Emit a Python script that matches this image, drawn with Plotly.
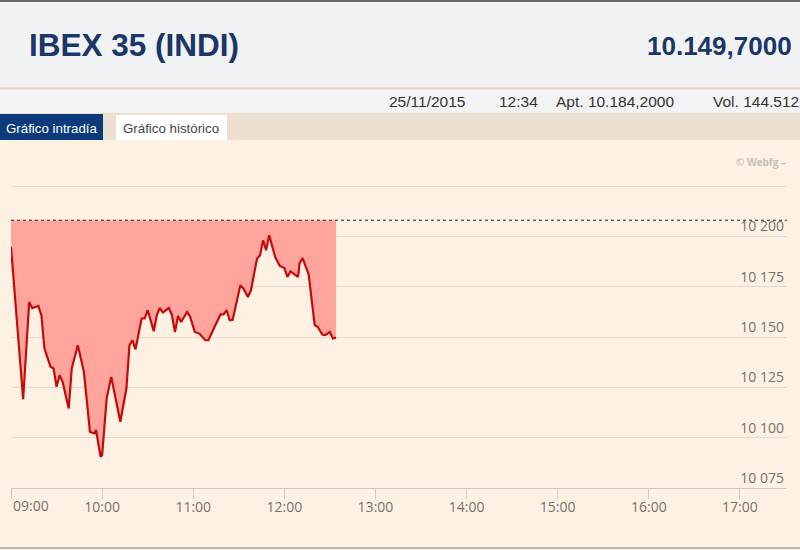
import plotly.graph_objects as go

# intraday quotes (time, value)
times = ["09:00", "09:08", "09:12", "09:14", "09:18", "09:20", "09:22", "09:26", "09:28", "09:30",
         "09:32", "09:34", "09:38", "09:40", "09:44", "09:48", "09:52", "09:55", "09:56", "09:59",
         "10:00", "10:03", "10:06", "10:11", "10:12", "10:16", "10:18", "10:20", "10:22", "10:26",
         "10:28", "10:30", "10:34", "10:36", "10:38", "10:40", "10:44", "10:46", "10:48", "10:50",
         "10:52", "10:56", "10:58", "11:01", "11:04", "11:08", "11:10", "11:14", "11:18", "11:20",
         "11:22", "11:24", "11:26", "11:31", "11:33", "11:36", "11:38", "11:42", "11:44", "11:46",
         "11:48", "11:50", "11:54", "11:57", "12:00", "12:02", "12:04", "12:07", "12:09", "12:10",
         "12:12", "12:15", "12:16", "12:20", "12:22", "12:25", "12:27", "12:30", "12:32", "12:34"]
values = [10194.7, 10119.1, 10167.4, 10164.3, 10165.4, 10160.8, 10144.4, 10135.2, 10134.4, 10125.3,
          10131.0, 10127.7, 10114.5, 10134.4, 10145.9, 10132.7, 10102.9, 10102.1, 10103.8, 10090.5,
          10091.4, 10119.5, 10130.2, 10111.2, 10107.9, 10124.4, 10145.9, 10148.4, 10143.9, 10159.2,
          10159.2, 10163.3, 10152.9, 10160.8, 10164.4, 10162.2, 10164.4, 10160.8, 10152.5, 10160.5,
          10157.5, 10162.4, 10160.0, 10152.5, 10151.7, 10148.4, 10148.4, 10155.0, 10161.2, 10161.2,
          10163.3, 10158.3, 10158.6, 10175.7, 10174.1, 10169.9, 10173.2, 10188.9, 10190.6, 10198.0,
          10193.1, 10200.5, 10189.7, 10185.3, 10184.3, 10179.8, 10182.6, 10181.0, 10179.8, 10186.5,
          10189.2, 10183.1, 10181.0, 10155.9, 10155.0, 10151.2, 10150.9, 10152.5, 10149.3, 10149.7]
prev_close = 10208

y_ticks = [10075, 10100, 10125, 10150, 10175, 10200, 10225]
y_labels = ["10 075", "10 100", "10 125", "10 150", "10 175", "10 200", ""]
x_hours = ["09:00", "10:00", "11:00", "12:00", "13:00", "14:00", "15:00", "16:00", "17:00"]

day = "2015-11-25 "
xs = [day + t for t in times]

# pixel -> paper helpers (plot area 11..787 x 184..488)
L, R, T, B = 11, 787, 184, 488
def px(x):
    return (x - L) / (R - L)
def py(y):
    return (B - y) / (B - T)

fig = go.Figure()
fig.add_trace(go.Scatter(x=xs, y=[prev_close] * len(xs), mode="lines",
                         line=dict(width=0), hoverinfo="skip", showlegend=False))
fig.add_trace(go.Scatter(x=xs, y=values, mode="lines", fill="tonexty",
                         fillcolor="#FFA39D", line=dict(color="#C50A0A", width=2.2),
                         showlegend=False))

shapes = [
    # header band
    dict(type="rect", xref="paper", yref="paper", x0=px(0), x1=px(800), y0=py(88), y1=py(0),
         fillcolor="#F1F2F4", line_width=0, layer="below"),
    dict(type="line", xref="paper", yref="paper", x0=px(0), x1=px(800), y0=py(1), y1=py(1),
         line=dict(color="#6a6a6a", width=2)),
    dict(type="line", xref="paper", yref="paper", x0=px(0), x1=px(800), y0=py(88.5), y1=py(88.5),
         line=dict(color="#E4D6C6", width=2)),
    # info bar
    dict(type="rect", xref="paper", yref="paper", x0=px(0), x1=px(800), y0=py(113), y1=py(89.5),
         fillcolor="#F3F3F3", line_width=0, layer="below"),
    # tab row
    dict(type="rect", xref="paper", yref="paper", x0=px(0), x1=px(800), y0=py(140), y1=py(113),
         fillcolor="#EEE0D0", line_width=0, layer="below"),
    dict(type="rect", xref="paper", yref="paper", x0=px(0), x1=px(103), y0=py(140), y1=py(114),
         fillcolor="#0B3B7A", line_width=0, layer="below"),
    dict(type="rect", xref="paper", yref="paper", x0=px(116), x1=px(227), y0=py(140), y1=py(115),
         fillcolor="#FFFFFF", line_width=0, layer="below"),
    # bottom border
    dict(type="line", xref="paper", yref="paper", x0=px(0), x1=px(800), y0=py(548), y1=py(548),
         line=dict(color="#B8B4AE", width=2)),
    # previous close
    dict(type="line", xref="paper", yref="y", x0=0, x1=1, y0=prev_close, y1=prev_close,
         line=dict(color="#222222", width=1, dash="dot")),
]

font = "Liberation Sans, Arial, sans-serif"
tick_font = dict(family="Open Sans, sans-serif", size=14, color="#77726C")
annotations = [
    dict(text="<b>IBEX 35 (INDI)</b>", x=px(27), y=py(45), xanchor="left", yanchor="middle",
         font=dict(family=font, size=31.5, color="#1B3667")),
    dict(text="<b>10.149,7000</b>", x=px(794), y=py(46), xanchor="right", yanchor="middle",
         font=dict(family=font, size=26, color="#1B3667")),
    dict(text="25/11/2015", x=px(387), y=py(101), xanchor="left", yanchor="middle",
         font=dict(family=font, size=15.5, color="#333333")),
    dict(text="12:34", x=px(497), y=py(101), xanchor="left", yanchor="middle",
         font=dict(family=font, size=15.5, color="#333333")),
    dict(text="Apt. 10.184,2000", x=px(554), y=py(101), xanchor="left", yanchor="middle",
         font=dict(family=font, size=15.5, color="#333333")),
    dict(text="Vol. 144.512", x=px(711), y=py(101), xanchor="left", yanchor="middle",
         font=dict(family=font, size=15.5, color="#333333")),
    dict(text="Gráfico intradía", x=px(4), y=py(128), xanchor="left", yanchor="middle",
         font=dict(family=font, size=13.3, color="#FFFFFF")),
    dict(text="Gráfico histórico", x=px(121), y=py(128), xanchor="left", yanchor="middle",
         font=dict(family=font, size=13.3, color="#444444")),
    dict(text="<b>© Webfg –</b>", x=px(788), y=py(162), xanchor="right", yanchor="middle",
         font=dict(family="Open Sans, sans-serif", size=10, color="#C4BFB8")),
    # first hour label is pushed right to stay inside the chart
    dict(text="09:00", xref="x", x=day + x_hours[0], y=py(505), xanchor="left", yanchor="middle",
         font=tick_font),
]
for a in annotations:
    a.setdefault("xref", "paper")
    a["yref"] = "paper"
    a["showarrow"] = False

fig.update_layout(
    width=800, height=550,
    margin=dict(l=L, r=800 - R, t=T, b=550 - B),
    paper_bgcolor="#FDF1E3", plot_bgcolor="#FDF1E3",
    shapes=shapes, annotations=annotations,
    showlegend=False,
    xaxis=dict(type="date", range=[day + "09:00", day + "17:31"],
               tickvals=[day + h for h in x_hours], ticktext=[""] + x_hours[1:],
               showgrid=False, showline=True, linecolor="#CFCAC3", linewidth=1,
               ticks="outside", ticklen=10, tickcolor="#CFCAC3", ticklabelstandoff=-4,
               tickfont=tick_font, fixedrange=True, zeroline=False),
    yaxis=dict(range=[10075, 10226], side="right", tickvals=y_ticks, ticktext=y_labels,
               ticklabelposition="inside top", showgrid=True, gridcolor="#E2D9CD",
               tickfont=tick_font, showline=False, zeroline=False, ticks="", fixedrange=True),
)

fig.write_html("out.html", config={"displayModeBar": False},
               post_script="document.body.style.margin='0';")
